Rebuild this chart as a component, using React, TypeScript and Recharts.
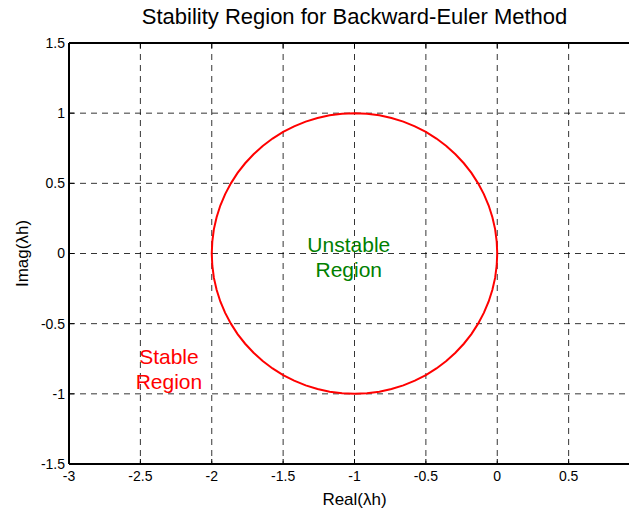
import React from 'react';
import {
  LineChart,
  Line,
  XAxis,
  YAxis,
  CartesianGrid,
  ReferenceDot,
} from 'recharts';

// boundary |1 + λh| = 1 -> circle centred at -1, radius 1
const circleRe = [
  0, -0.004, -0.015, -0.034, -0.06, -0.094, -0.134, -0.181, -0.234, -0.293,
  -0.357, -0.426, -0.5, -0.577, -0.658, -0.741, -0.826, -0.913, -1,
  -1.087, -1.174, -1.259, -1.342, -1.423, -1.5, -1.574, -1.643, -1.707,
  -1.766, -1.819, -1.866, -1.906, -1.94, -1.966, -1.985, -1.996, -2,
  -1.996, -1.985, -1.966, -1.94, -1.906, -1.866, -1.819, -1.766, -1.707,
  -1.643, -1.574, -1.5, -1.423, -1.342, -1.259, -1.174, -1.087, -1,
  -0.913, -0.826, -0.741, -0.658, -0.577, -0.5, -0.426, -0.357, -0.293,
  -0.234, -0.181, -0.134, -0.094, -0.06, -0.034, -0.015, -0.004, 0,
];
const circleIm = [
  0, 0.087, 0.174, 0.259, 0.342, 0.423, 0.5, 0.574, 0.643, 0.707,
  0.766, 0.819, 0.866, 0.906, 0.94, 0.966, 0.985, 0.996, 1,
  0.996, 0.985, 0.966, 0.94, 0.906, 0.866, 0.819, 0.766, 0.707,
  0.643, 0.574, 0.5, 0.423, 0.342, 0.259, 0.174, 0.087, 0,
  -0.087, -0.174, -0.259, -0.342, -0.423, -0.5, -0.574, -0.643, -0.707,
  -0.766, -0.819, -0.866, -0.906, -0.94, -0.966, -0.985, -0.996, -1,
  -0.996, -0.985, -0.966, -0.94, -0.906, -0.866, -0.819, -0.766, -0.707,
  -0.643, -0.574, -0.5, -0.423, -0.342, -0.259, -0.174, -0.087, 0,
];

const xTicks = [-3, -2.5, -2, -1.5, -1, -0.5, 0, 0.5];
const yTicks = [-1.5, -1, -0.5, 0, 0.5, 1, 1.5];

const stableLines = ['Stable', 'Region'];
const stablePos = { x: -2.3, y: -0.82 };
const unstableLines = ['Unstable', 'Region'];
const unstablePos = { x: -1.04, y: -0.025 };

const data = circleRe.map((re, i) => ({ re, im: circleIm[i] }));

const FONT = '"Liberation Sans", Arial, Helvetica, sans-serif';
const tickStyle = { fill: '#000', fontSize: 14, fontFamily: FONT };

const note = (lines: string[], color: string) => (props: any) => {
  const { cx, cy } = props;
  return (
    <text x={cx} y={cy} textAnchor="middle" fill={color} fontSize={21} fontFamily={FONT}>
      {lines.map((l, i) => (
        <tspan key={i} x={cx} dy={i === 0 ? -5 : 25}>
          {l}
        </tspan>
      ))}
    </text>
  );
};

export default function App() {
  return (
    <div
      style={{
        position: 'absolute',
        left: 0,
        top: 0,
        width: 629,
        height: 511,
        overflow: 'hidden',
        background: '#fff',
      }}
    >
      <LineChart
        width={640}
        height={511}
        data={data}
        margin={{ top: 0, right: 0, bottom: 0, left: 9 }}
      >
        <CartesianGrid stroke="#000" strokeWidth={0.8} strokeDasharray="6 5" />
        <XAxis
          dataKey="re"
          type="number"
          domain={[-3, 1]}
          ticks={xTicks}
          interval={0}
          height={47}
          tick={tickStyle}
          tickSize={-5}
          tickMargin={12}
          tickLine={{ stroke: '#000' }}
          axisLine={{ stroke: '#000', strokeWidth: 2 }}
          label={{
            value: 'Real(λh)',
            position: 'insideBottom',
            offset: 6,
            fill: '#000',
            fontSize: 17,
            fontFamily: FONT,
          }}
        />
        <XAxis
          xAxisId="top"
          orientation="top"
          dataKey="re"
          type="number"
          domain={[-3, 1]}
          ticks={xTicks}
          interval={0}
          height={43}
          tickFormatter={() => ''}
          tickSize={-5}
          tickLine={{ stroke: '#000' }}
          axisLine={{ stroke: '#000', strokeWidth: 2 }}
          label={{
            value: 'Stability Region for Backward-Euler Method',
            position: 'insideTop',
            offset: 8,
            fill: '#000',
            fontSize: 22,
            fontFamily: FONT,
          }}
        />
        <YAxis
          dataKey="im"
          type="number"
          domain={[-1.5, 1.5]}
          ticks={yTicks}
          interval={0}
          width={60}
          tick={tickStyle}
          tickSize={-5}
          tickMargin={9}
          tickLine={{ stroke: '#000' }}
          axisLine={{ stroke: '#000', strokeWidth: 2 }}
          label={{
            value: 'Imag(λh)',
            angle: -90,
            position: 'center',
            dx: -17,
            fill: '#000',
            fontSize: 17,
            fontFamily: FONT,
          }}
        />
        <Line
          dataKey="im"
          type="linear"
          stroke="#ff0000"
          strokeWidth={2}
          dot={false}
          isAnimationActive={false}
        />
        <ReferenceDot
          x={stablePos.x}
          y={stablePos.y}
          r={0}
          shape={note(stableLines, '#ff0000')}
        />
        <ReferenceDot
          x={unstablePos.x}
          y={unstablePos.y}
          r={0}
          shape={note(unstableLines, '#008000')}
        />
      </LineChart>
    </div>
  );
}
